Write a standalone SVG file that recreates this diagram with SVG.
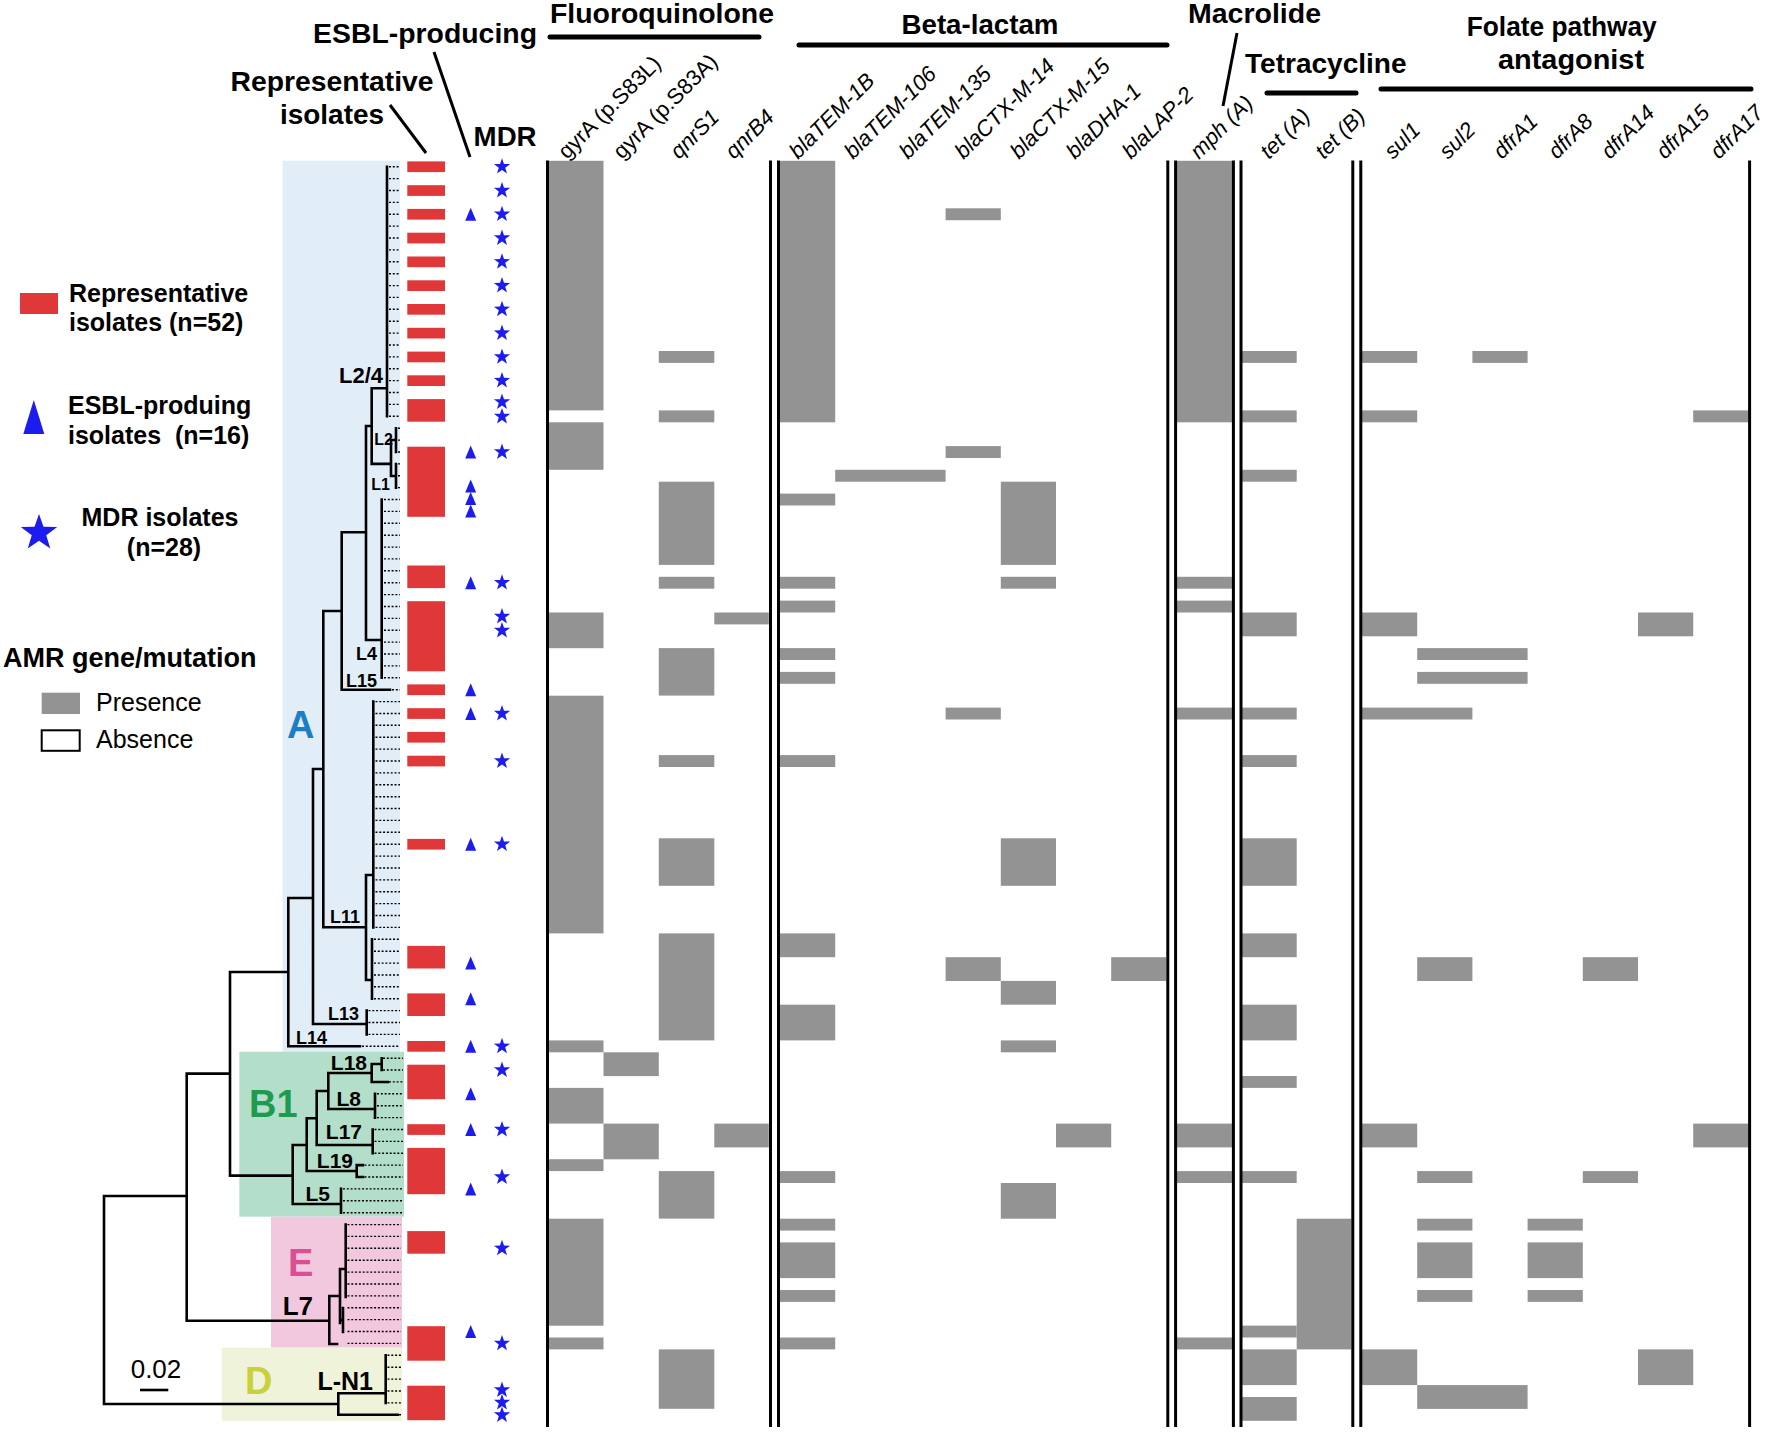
<svg xmlns="http://www.w3.org/2000/svg" width="1772" height="1432" viewBox="0 0 1772 1432">
<style>
text{font-family:'Liberation Sans',Arial,sans-serif;fill:#000}
.hdr{font-weight:bold;font-size:28px}
.gene{font-size:22px;font-style:italic}
.gup{font-size:22px}
.leg{font-weight:bold;font-size:25px}
.legn{font-size:25px}
.tl{font-weight:bold;font-size:18px}
.tl2{font-weight:bold;font-size:21px}
.tl3{font-weight:bold;font-size:26px}
.clade{font-weight:bold;font-size:38px}
.cA{fill:#1b7fc5}
.cB{fill:#1f9a4f}
.cE{fill:#db4f93}
.cD{fill:#c8d13b}
.cell{fill:#939393}
.rep{fill:#e03838}
.blue{fill:#1c1cee}
.vl{stroke:#000;stroke-width:3;fill:none}
.tree{stroke:#000;stroke-width:2.6;fill:none;stroke-linecap:square}
.lead{stroke:#000;stroke-width:1.4;stroke-dasharray:2 1.8;fill:none}
.ptr{stroke:#000;stroke-width:3;fill:none}
.bar{stroke:#000;stroke-width:5;stroke-linecap:round;fill:none}
</style>
<defs>
<path id="star" class="blue" d="M0,-8.5L2,-2.75L8.08,-2.63L3.23,1.05L5,6.88L0,3.4L-5,6.88L-3.23,1.05L-8.08,-2.63L-2,-2.75Z"/>
<path id="tri" class="blue" d="M0,-6.5L5.5,6.5L-5.5,6.5Z"/>
</defs>
<rect width="1772" height="1432" fill="#fff"/>

<g id="clade-A">
<rect x="282.5" y="160.7" width="117.5" height="891" fill="#e1eef8"/>
<text class="clade cA" x="287" y="738">A</text>
</g>
<g id="clade-B1">
<rect x="239.3" y="1051.7" width="164.7" height="165" fill="#b3dfca"/>
<text class="clade cB" x="249" y="1117">B1</text>
</g>
<g id="clade-E">
<rect x="271" y="1216.7" width="131" height="131" fill="#f2c8de"/>
<text class="clade cE" x="288" y="1276">E</text>
</g>
<g id="clade-D">
<rect x="221.7" y="1347.7" width="180.3" height="73" fill="#eff3d9"/>
<text class="clade cD" x="245" y="1394">D</text>
</g>

<g id="leaders">
<path class="lead" d="M389,166.7H400M389,178.6H400M389,190.5H400M389,202.4H400M389,214.2H400M389,226.1H400M389,238H400M389,249.9H400M389,261.8H400M389,273.7H400M389,285.6H400M389,297.4H400M389,309.3H400M389,321.2H400M389,333.1H400M389,345H400M389,356.9H400M389,368.8H400M389,380.6H400M389,392.5H400M389,404.4H400M389,416.3H400
M398,428.2H400M398,440.1H400M398,452H400M398,463.9H400M398,475.7H400M398,487.6H400
M384,499.5H400M384,511.4H400M384,523.3H400M384,535.2H400M384,547.1H400M384,558.9H400M384,570.8H400M384,582.7H400M384,594.6H400M384,606.5H400M384,618.4H400M384,630.3H400M384,642.1H400M384,654H400M384,665.9H400M384,677.8H400
M392,689.7H400
M375.5,701.6H400M375.5,713.5H400M375.5,725.3H400M375.5,737.2H400M375.5,749.1H400M375.5,761H400M375.5,772.9H400M375.5,784.8H400M375.5,796.7H400M375.5,808.5H400M375.5,820.4H400M375.5,832.3H400M375.5,844.2H400M375.5,856.1H400M375.5,868H400M375.5,879.9H400M375.5,891.7H400M375.5,903.6H400M375.5,915.5H400M375.5,927.4H400
M374,939.3H400M374,951.2H400M374,963.1H400M374,975H400M374,986.8H400M374,998.7H400
M368.5,1010.6H400M368.5,1022.5H400M368.5,1034.4H400
M362,1046.3H400
M383,1058.2H403M383,1070H403M389,1081.9H403
M377,1093.8H403M377,1105.7H403M377,1117.6H403
M374.5,1129.5H403M374.5,1141.4H403M374.5,1153.2H403
M364.5,1165.1H403M364.5,1177H403
M343,1188.9H403M343,1200.8H403M343,1212.7H403
M347.5,1224.6H401M347.5,1236.4H401M347.5,1248.3H401M347.5,1260.2H401M347.5,1272.1H401M347.5,1284H401M347.5,1295.9H401M347.5,1307.8H401M347.5,1319.6H401M347.5,1331.5H401M347.5,1343.4H401
M387.5,1355.3H401M387.5,1367.2H401M387.5,1379.1H401M387.5,1391H401M387.5,1402.9H401M399,1414.8H401"/>
</g>

<g id="connectors">
<path class="tree" d="M387,166.7V416.3M371.7,388.3H387M371.7,388.3V463.9M366,426H371.7M371.7,463.9H391M391,440V476M391,440H396M396,428.2V452M391,476H396M396,464V487.6
M366,426V640M366,640H381.7M381.7,499.5V677.8M341.7,532.3H366M341.7,532.3V689.7M341.7,689.7H390M323.3,611H341.7M323.3,611V927.2M323.3,927.2H366
M366,875V980M366,875H373.3M373.3,701.6V927.4M366,980H372M372,939.3V998.7
M313,769H323.3M313,769V1024M313,1024H366.7M366.7,1010.6V1034.4M288.3,898H313M288.3,898V1046.3M288.3,1046.3H360M230,972H288.3M230,972V1175.6M230,1175.6H292.7
M292.7,1145V1204M292.7,1204H341M341,1188.9V1212.7M292.7,1145H306.7M306.7,1118.3V1171M306.7,1171H356.7M356.7,1165.1V1177M356.7,1165.1H363M356.7,1177H363
M306.7,1118.3H316.7M316.7,1091V1145M316.7,1145H372.7M372.7,1129.5V1153.2M316.7,1091H328.3M328.3,1073V1109M328.3,1109H375M375,1093.8V1117.6M328.3,1073H371.7M371.7,1064V1082M371.7,1064H381.7M381.7,1058.2V1070M371.7,1082H388
M186.7,1073.6H230M186.7,1073.6V1320.7M186.7,1320.7H329.3
M329.3,1296V1344M329.3,1344H337M329.3,1296H340M340,1269V1323M340,1269H345.7M345.7,1224.6V1297M343,1308V1332M340,1320H343
M104,1196H186.7M104,1196V1404M104,1404H338.3M338.3,1393.3V1414.8M338.3,1393.3H385.7M385.7,1355.3V1402.9M338.3,1414.8H397.7"/>
<line class="ptr" x1="390" y1="105" x2="426" y2="153"/>
<line class="ptr" x1="434" y1="52" x2="470" y2="157"/>
<line class="ptr" x1="1237" y1="33" x2="1223" y2="106"/>
<path class="bar" d="M550,37H759M799,45H1167M1267,93H1356M1381,89H1751"/>
</g>

<g id="lineage-labels">
<text class="tl" x="383" y="383" text-anchor="end" style="font-size:22px">L2/4</text>
<text class="tl" x="393" y="445" text-anchor="end" style="font-size:16px">L2</text>
<text class="tl" x="390" y="490" text-anchor="end" style="font-size:16px">L1</text>
<text class="tl" x="377" y="660" text-anchor="end">L4</text>
<text class="tl" x="377" y="687" text-anchor="end">L15</text>
<text class="tl" x="360" y="923" text-anchor="end">L11</text>
<text class="tl" x="359" y="1020" text-anchor="end">L13</text>
<text class="tl" x="327" y="1044" text-anchor="end">L14</text>
<text class="tl2" x="367" y="1070" text-anchor="end">L18</text>
<text class="tl2" x="361" y="1106" text-anchor="end">L8</text>
<text class="tl2" x="362" y="1139" text-anchor="end">L17</text>
<text class="tl2" x="353" y="1168" text-anchor="end">L19</text>
<text class="tl2" x="330" y="1201" text-anchor="end">L5</text>
<text class="tl3" x="313" y="1315" text-anchor="end">L7</text>
<text class="tl3" x="373" y="1390" text-anchor="end" style="font-size:25px">L-N1</text>
<text x="156" y="1378" text-anchor="middle" style="font-size:26px">0.02</text>
<line x1="140" y1="1390" x2="168.3" y2="1390" stroke="#000" stroke-width="2.6"/>
</g>

<g id="representative-isolates">
<rect class="rep" x="407.3" y="161.4" width="37.7" height="10.7"/>
<rect class="rep" x="407.3" y="185.2" width="37.7" height="10.7"/>
<rect class="rep" x="407.3" y="208.9" width="37.7" height="10.7"/>
<rect class="rep" x="407.3" y="232.7" width="37.7" height="10.7"/>
<rect class="rep" x="407.3" y="256.5" width="37.7" height="10.7"/>
<rect class="rep" x="407.3" y="280.3" width="37.7" height="10.7"/>
<rect class="rep" x="407.3" y="304" width="37.7" height="10.7"/>
<rect class="rep" x="407.3" y="327.8" width="37.7" height="10.7"/>
<rect class="rep" x="407.3" y="351.6" width="37.7" height="10.7"/>
<rect class="rep" x="407.3" y="375.3" width="37.7" height="10.7"/>
<rect class="rep" x="407.3" y="399.1" width="37.7" height="22.6"/>
<rect class="rep" x="407.3" y="446.7" width="37.7" height="70.1"/>
<rect class="rep" x="407.3" y="565.5" width="37.7" height="22.6"/>
<rect class="rep" x="407.3" y="601.2" width="37.7" height="70.1"/>
<rect class="rep" x="407.3" y="684.4" width="37.7" height="10.7"/>
<rect class="rep" x="407.3" y="708.2" width="37.7" height="10.7"/>
<rect class="rep" x="407.3" y="731.9" width="37.7" height="10.7"/>
<rect class="rep" x="407.3" y="755.7" width="37.7" height="10.7"/>
<rect class="rep" x="407.3" y="838.9" width="37.7" height="10.7"/>
<rect class="rep" x="407.3" y="945.9" width="37.7" height="22.6"/>
<rect class="rep" x="407.3" y="993.4" width="37.7" height="22.6"/>
<rect class="rep" x="407.3" y="1041" width="37.7" height="10.7"/>
<rect class="rep" x="407.3" y="1064.7" width="37.7" height="34.5"/>
<rect class="rep" x="407.3" y="1124.2" width="37.7" height="10.7"/>
<rect class="rep" x="407.3" y="1147.9" width="37.7" height="46.3"/>
<rect class="rep" x="407.3" y="1231.1" width="37.7" height="22.6"/>
<rect class="rep" x="407.3" y="1326.2" width="37.7" height="34.5"/>
<rect class="rep" x="407.3" y="1385.7" width="37.7" height="34.5"/>
</g>

<g id="esbl-producing">
<use href="#tri" x="470.7" y="214.2"/>
<use href="#tri" x="470.7" y="452"/>
<use href="#tri" x="470.7" y="486"/>
<use href="#tri" x="470.7" y="498.5"/>
<use href="#tri" x="470.7" y="511"/>
<use href="#tri" x="470.7" y="582.7"/>
<use href="#tri" x="470.7" y="689.7"/>
<use href="#tri" x="470.7" y="713.5"/>
<use href="#tri" x="470.7" y="844.2"/>
<use href="#tri" x="470.7" y="963.1"/>
<use href="#tri" x="470.7" y="998.7"/>
<use href="#tri" x="470.7" y="1046.3"/>
<use href="#tri" x="470.7" y="1093.8"/>
<use href="#tri" x="470.7" y="1129.5"/>
<use href="#tri" x="470.7" y="1188.9"/>
<use href="#tri" x="470.7" y="1331.5"/>
</g>

<g id="mdr">
<use href="#star" x="502" y="166.7"/>
<use href="#star" x="502" y="190.5"/>
<use href="#star" x="502" y="214.2"/>
<use href="#star" x="502" y="238"/>
<use href="#star" x="502" y="261.8"/>
<use href="#star" x="502" y="285.6"/>
<use href="#star" x="502" y="309.3"/>
<use href="#star" x="502" y="333.1"/>
<use href="#star" x="502" y="356.9"/>
<use href="#star" x="502" y="380.6"/>
<use href="#star" x="502" y="402"/>
<use href="#star" x="502" y="416.5"/>
<use href="#star" x="502" y="452"/>
<use href="#star" x="502" y="582.7"/>
<use href="#star" x="502" y="616.5"/>
<use href="#star" x="502" y="630.5"/>
<use href="#star" x="502" y="713.5"/>
<use href="#star" x="502" y="761"/>
<use href="#star" x="502" y="844.2"/>
<use href="#star" x="502" y="1046.3"/>
<use href="#star" x="502" y="1070"/>
<use href="#star" x="502" y="1129.5"/>
<use href="#star" x="502" y="1177"/>
<use href="#star" x="502" y="1248.3"/>
<use href="#star" x="502" y="1343.4"/>
<use href="#star" x="502" y="1390"/>
<use href="#star" x="502" y="1402.5"/>
<use href="#star" x="502" y="1415"/>
</g>

<g id="heatmap-cells">
<g id="col-gyrA-S83L">
<rect class="cell" x="549" y="160.8" width="54.5" height="249.6"/>
<rect class="cell" x="549" y="422.3" width="54.5" height="47.5"/>
<rect class="cell" x="549" y="612.5" width="54.5" height="35.7"/>
<rect class="cell" x="549" y="695.7" width="54.5" height="237.7"/>
<rect class="cell" x="549" y="1040.4" width="54.5" height="11.9"/>
<rect class="cell" x="549" y="1087.9" width="54.5" height="35.7"/>
<rect class="cell" x="549" y="1159.2" width="54.5" height="11.9"/>
<rect class="cell" x="549" y="1218.7" width="54.5" height="107"/>
<rect class="cell" x="549" y="1337.5" width="54.5" height="11.9"/>
</g>
<g id="col-gyrA-S83A">
<rect class="cell" x="603.5" y="1052.3" width="55.3" height="23.8"/>
<rect class="cell" x="603.5" y="1123.6" width="55.3" height="35.7"/>
</g>
<g id="col-qnrS1">
<rect class="cell" x="658.8" y="351" width="55.5" height="11.9"/>
<rect class="cell" x="658.8" y="410.4" width="55.5" height="11.9"/>
<rect class="cell" x="658.8" y="481.7" width="55.5" height="83.2"/>
<rect class="cell" x="658.8" y="576.8" width="55.5" height="11.9"/>
<rect class="cell" x="658.8" y="648.1" width="55.5" height="47.5"/>
<rect class="cell" x="658.8" y="755.1" width="55.5" height="11.9"/>
<rect class="cell" x="658.8" y="838.3" width="55.5" height="47.5"/>
<rect class="cell" x="658.8" y="933.4" width="55.5" height="107"/>
<rect class="cell" x="658.8" y="1171.1" width="55.5" height="47.5"/>
<rect class="cell" x="658.8" y="1349.4" width="55.5" height="59.4"/>
</g>
<g id="col-qnrB4">
<rect class="cell" x="714.3" y="612.5" width="54.5" height="11.9"/>
<rect class="cell" x="714.3" y="1123.6" width="54.5" height="23.8"/>
</g>
<g id="col-blaTEM-1B">
<rect class="cell" x="780" y="160.8" width="55.2" height="261.5"/>
<rect class="cell" x="780" y="493.6" width="55.2" height="11.9"/>
<rect class="cell" x="780" y="576.8" width="55.2" height="11.9"/>
<rect class="cell" x="780" y="600.6" width="55.2" height="11.9"/>
<rect class="cell" x="780" y="648.1" width="55.2" height="11.9"/>
<rect class="cell" x="780" y="671.9" width="55.2" height="11.9"/>
<rect class="cell" x="780" y="755.1" width="55.2" height="11.9"/>
<rect class="cell" x="780" y="933.4" width="55.2" height="23.8"/>
<rect class="cell" x="780" y="1004.7" width="55.2" height="35.7"/>
<rect class="cell" x="780" y="1171.1" width="55.2" height="11.9"/>
<rect class="cell" x="780" y="1218.7" width="55.2" height="11.9"/>
<rect class="cell" x="780" y="1242.4" width="55.2" height="35.7"/>
<rect class="cell" x="780" y="1290" width="55.2" height="11.9"/>
<rect class="cell" x="780" y="1337.5" width="55.2" height="11.9"/>
</g>
<g id="col-blaTEM-106-135">
<rect class="cell" x="835.2" y="469.8" width="110.4" height="11.9"/>
</g>
<g id="col-blaCTX-M-14">
<rect class="cell" x="945.6" y="208.3" width="55.2" height="11.9"/>
<rect class="cell" x="945.6" y="446.1" width="55.2" height="11.9"/>
<rect class="cell" x="945.6" y="707.6" width="55.2" height="11.9"/>
<rect class="cell" x="945.6" y="957.2" width="55.2" height="23.8"/>
</g>
<g id="col-blaCTX-M-15">
<rect class="cell" x="1000.8" y="481.7" width="55.2" height="83.2"/>
<rect class="cell" x="1000.8" y="576.8" width="55.2" height="11.9"/>
<rect class="cell" x="1000.8" y="838.3" width="55.2" height="47.5"/>
<rect class="cell" x="1000.8" y="980.9" width="55.2" height="23.8"/>
<rect class="cell" x="1000.8" y="1040.4" width="55.2" height="11.9"/>
<rect class="cell" x="1000.8" y="1183" width="55.2" height="35.7"/>
</g>
<g id="col-blaDHA-1">
<rect class="cell" x="1056" y="1123.6" width="55.2" height="23.8"/>
</g>
<g id="col-blaLAP-2">
<rect class="cell" x="1111.2" y="957.2" width="55.2" height="23.8"/>
</g>
<g id="col-mphA">
<rect class="cell" x="1177" y="160.8" width="55" height="261.5"/>
<rect class="cell" x="1177" y="576.8" width="55" height="11.9"/>
<rect class="cell" x="1177" y="600.6" width="55" height="11.9"/>
<rect class="cell" x="1177" y="707.6" width="55" height="11.9"/>
<rect class="cell" x="1177" y="1123.6" width="55" height="23.8"/>
<rect class="cell" x="1177" y="1171.1" width="55" height="11.9"/>
<rect class="cell" x="1177" y="1337.5" width="55" height="11.9"/>
</g>
<g id="col-tetA">
<rect class="cell" x="1242" y="351" width="54.7" height="11.9"/>
<rect class="cell" x="1242" y="410.4" width="54.7" height="11.9"/>
<rect class="cell" x="1242" y="469.8" width="54.7" height="11.9"/>
<rect class="cell" x="1242" y="612.5" width="54.7" height="23.8"/>
<rect class="cell" x="1242" y="707.6" width="54.7" height="11.9"/>
<rect class="cell" x="1242" y="755.1" width="54.7" height="11.9"/>
<rect class="cell" x="1242" y="838.3" width="54.7" height="47.5"/>
<rect class="cell" x="1242" y="933.4" width="54.7" height="23.8"/>
<rect class="cell" x="1242" y="1004.7" width="54.7" height="35.7"/>
<rect class="cell" x="1242" y="1076" width="54.7" height="11.9"/>
<rect class="cell" x="1242" y="1171.1" width="54.7" height="11.9"/>
<rect class="cell" x="1242" y="1325.6" width="54.7" height="11.9"/>
<rect class="cell" x="1242" y="1349.4" width="54.7" height="35.7"/>
<rect class="cell" x="1242" y="1397" width="54.7" height="23.8"/>
</g>
<g id="col-tetB">
<rect class="cell" x="1296.7" y="1218.7" width="54.7" height="130.7"/>
</g>
<g id="col-sul1">
<rect class="cell" x="1362" y="351" width="55.2" height="11.9"/>
<rect class="cell" x="1362" y="410.4" width="55.2" height="11.9"/>
<rect class="cell" x="1362" y="612.5" width="55.2" height="23.8"/>
<rect class="cell" x="1362" y="707.6" width="110.4" height="11.9"/>
<rect class="cell" x="1362" y="1123.6" width="55.2" height="23.8"/>
<rect class="cell" x="1362" y="1349.4" width="55.2" height="35.7"/>
</g>
<g id="col-sul2">
<rect class="cell" x="1417.2" y="648.1" width="110.4" height="11.9"/>
<rect class="cell" x="1417.2" y="671.9" width="110.4" height="11.9"/>
<rect class="cell" x="1417.2" y="957.2" width="55.2" height="23.8"/>
<rect class="cell" x="1417.2" y="1171.1" width="55.2" height="11.9"/>
<rect class="cell" x="1417.2" y="1218.7" width="55.2" height="11.9"/>
<rect class="cell" x="1417.2" y="1242.4" width="55.2" height="35.7"/>
<rect class="cell" x="1417.2" y="1290" width="55.2" height="11.9"/>
<rect class="cell" x="1417.2" y="1385.1" width="110.4" height="23.8"/>
</g>
<g id="col-dfrA1">
<rect class="cell" x="1472.4" y="351" width="55.2" height="11.9"/>
</g>
<g id="col-dfrA8">
<rect class="cell" x="1527.6" y="1218.7" width="55.2" height="11.9"/>
<rect class="cell" x="1527.6" y="1242.4" width="55.2" height="35.7"/>
<rect class="cell" x="1527.6" y="1290" width="55.2" height="11.9"/>
</g>
<g id="col-dfrA14">
<rect class="cell" x="1582.8" y="957.2" width="55.2" height="23.8"/>
<rect class="cell" x="1582.8" y="1171.1" width="55.2" height="11.9"/>
</g>
<g id="col-dfrA15">
<rect class="cell" x="1638" y="612.5" width="55.2" height="23.8"/>
<rect class="cell" x="1638" y="1349.4" width="55.2" height="35.7"/>
</g>
<g id="col-dfrA17">
<rect class="cell" x="1693.2" y="410.4" width="55.2" height="11.9"/>
<rect class="cell" x="1693.2" y="1123.6" width="55.2" height="23.8"/>
</g>
</g>

<g id="heatmap-dividers">
<path class="vl" d="M547.5,160.5V1427M770.5,160.5V1427M778.5,160.5V1427M1167.8,160.5V1427M1175.6,160.5V1427M1233.4,160.5V1427M1241,160.5V1427M1352.8,160.5V1427M1360.8,160.5V1427M1749.6,160.5V1427"/>
</g>

<g id="headers">
<text class="hdr" x="550" y="23" textLength="224" lengthAdjust="spacingAndGlyphs">Fluoroquinolone</text>
<text class="hdr" x="901.5" y="34" textLength="157" lengthAdjust="spacingAndGlyphs">Beta-lactam</text>
<text class="hdr" x="1188" y="23" textLength="133" lengthAdjust="spacingAndGlyphs">Macrolide</text>
<text class="hdr" x="1245" y="73" textLength="161.6" lengthAdjust="spacingAndGlyphs">Tetracycline</text>
<text class="hdr" x="1466.7" y="36" textLength="190" lengthAdjust="spacingAndGlyphs">Folate pathway</text>
<text class="hdr" x="1498" y="69" textLength="146" lengthAdjust="spacingAndGlyphs">antagonist</text>
<text class="hdr" x="313" y="43" textLength="224" lengthAdjust="spacingAndGlyphs">ESBL-producing</text>
<text class="hdr" x="230.6" y="91" textLength="203" lengthAdjust="spacingAndGlyphs">Representative</text>
<text class="hdr" x="280" y="124" textLength="104" lengthAdjust="spacingAndGlyphs">isolates</text>
<text class="hdr" x="473.6" y="146" textLength="63" lengthAdjust="spacingAndGlyphs">MDR</text>
</g>

<g id="gene-labels">
<text class="gup" transform="translate(567,160) rotate(-45)">gyrA (p.S83L)</text>
<text class="gup" transform="translate(622,160) rotate(-45)">gyrA (p.S83A)</text>
<text class="gene" transform="translate(679,160) rotate(-45)">qnrS1</text>
<text class="gene" transform="translate(734,160) rotate(-45)">qnrB4</text>
<text class="gene" transform="translate(798,160) rotate(-45)">blaTEM-1B</text>
<text class="gene" transform="translate(853,160) rotate(-45)">blaTEM-106</text>
<text class="gene" transform="translate(908,160) rotate(-45)">blaTEM-135</text>
<text class="gene" transform="translate(963.5,160) rotate(-45)">blaCTX-M-14</text>
<text class="gene" transform="translate(1019,160) rotate(-45)">blaCTX-M-15</text>
<text class="gene" transform="translate(1075,160) rotate(-45)">blaDHA-1</text>
<text class="gene" transform="translate(1131,160) rotate(-45)">blaLAP-2</text>
<text class="gene" transform="translate(1199,160) rotate(-45)">mph (A)</text>
<text class="gene" transform="translate(1269,160) rotate(-45)">tet (A)</text>
<text class="gene" transform="translate(1324,160) rotate(-45)">tet (B)</text>
<text class="gene" transform="translate(1393,160) rotate(-45)">sul1</text>
<text class="gene" transform="translate(1448,160) rotate(-45)">sul2</text>
<text class="gene" transform="translate(1502,160) rotate(-45)">dfrA1</text>
<text class="gene" transform="translate(1557,160) rotate(-45)">dfrA8</text>
<text class="gene" transform="translate(1610,160) rotate(-45)">dfrA14</text>
<text class="gene" transform="translate(1665,160) rotate(-45)">dfrA15</text>
<text class="gene" transform="translate(1719,160) rotate(-45)">dfrA17</text>
</g>

<g id="legend">
<g id="legend-rep">
<rect class="rep" x="20" y="293" width="38" height="21"/>
<text class="leg" x="69" y="302">Representative</text>
<text class="leg" x="69" y="331">isolates (n=52)</text>
</g>
<g id="legend-esbl">
<path class="blue" d="M33.8,400L44.3,434L23.3,434Z"/>
<text class="leg" x="68" y="414">ESBL-produing</text>
<text class="leg" x="68" y="444" xml:space="preserve">isolates  (n=16)</text>
</g>
<g id="legend-mdr">
<use href="#star" transform="translate(39,533) scale(2.25)"/>
<text class="leg" x="160" y="526" text-anchor="middle">MDR isolates</text>
<text class="leg" x="164" y="556" text-anchor="middle">(n=28)</text>
</g>
<g id="legend-amr">
<text class="leg" x="3" y="667" style="font-size:27px">AMR gene/mutation</text>
<rect class="cell" x="41.7" y="692.7" width="38.3" height="21.3"/>
<text class="legn" x="96" y="711">Presence</text>
<rect x="41.7" y="730.3" width="38" height="20.5" fill="#fff" stroke="#000" stroke-width="2"/>
<text class="legn" x="96" y="748">Absence</text>
</g>
</g>
</svg>
